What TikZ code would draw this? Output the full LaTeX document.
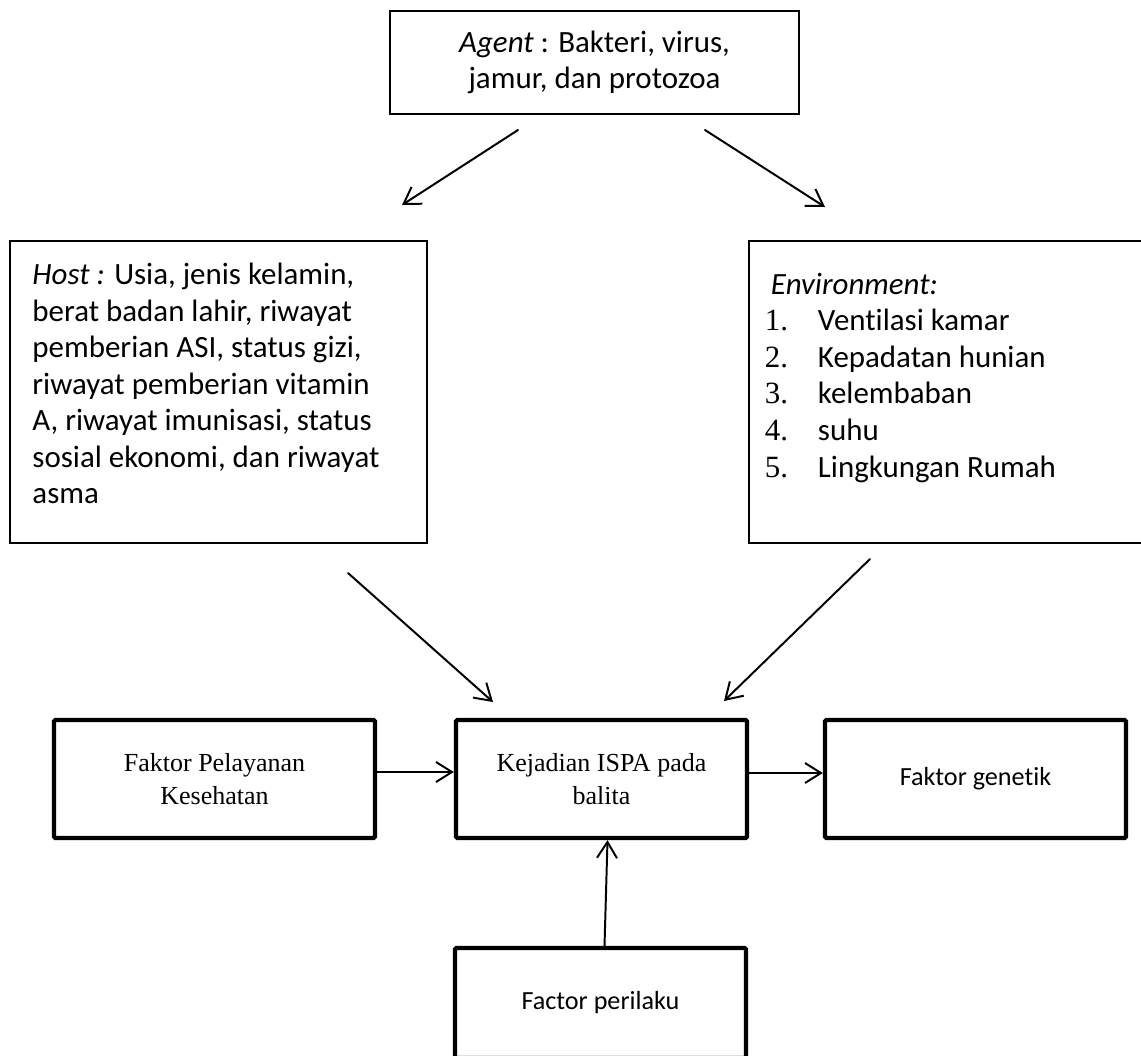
\documentclass[tikz,border=0pt]{standalone}
\usepackage{fontspec}
\setmainfont{Carlito}[Ligatures=NoCommon]
\newfontfamily\timesfont{Liberation Serif}
\usetikzlibrary{arrows.meta}

\begin{document}
\begin{tikzpicture}
[x=0.025cm,y=-0.025cm,line cap=round,
% Styles
thin box/.style={draw,line width=1.4pt},
thick box/.style={draw,line width=3pt,rounded corners=1pt,align=center,inner sep=0pt},
list box/.style={thin box,big text,inner xsep=0.55cm},
link/.style={line width=1.4pt,-{Straight Barb[length=4mm,width=5mm]}},
big text/.style={font=\fontsize{22}{26}\selectfont},
serif text/.style={font=\timesfont\fontsize{18.5}{23}\selectfont},
small text/.style={font=\fontsize{18.6}{23}\selectfont}]
% Local definitions
\def\envitem#1#2{\hspace*{-0.15cm}\makebox[1.325cm][l]{\timesfont #1.}#2}

% The graphic
\useasboundingbox (0,0) rectangle (1141,1055);

% Agent, host and environment
\node[thin box,big text,align=center,inner sep=0pt,
      minimum width=10.225cm,minimum height=2.575cm] (agent) at (594.5,62.5)
  {\textit{Agent} : Bakteri, virus,\\jamur, dan protozoa};
\node[list box,inner ysep=0.55cm] (host) at (218.5,392)
  {\parbox[c][6.45cm][t]{9.3cm}{\raggedright
   \textit{Host :} Usia, jenis kelamin,\\
   berat badan lahir, riwayat\\
   pemberian ASI, status gizi,\\
   riwayat pemberian vitamin\\
   A, riwayat imunisasi, status\\
   sosial ekonomi, dan riwayat\\
   asma}};
\node[list box,inner ysep=0.8cm] (env) at (957,392)
  {\parbox[c][5.95cm][t]{9.3cm}{\raggedright
   \textit{Environment:}\\
   \envitem{1}{Ventilasi kamar}\\
   \envitem{2}{Kepadatan hunian}\\
   \envitem{3}{kelembaban}\\
   \envitem{4}{suhu}\\
   \envitem{5}{Lingkungan Rumah}}};

% Factors round the outcome
\node[thick box,serif text,minimum width=8.025cm,minimum height=2.95cm] (faktor) at (214.5,779)
  {Faktor Pelayanan\\Kesehatan};
\node[thick box,serif text,minimum width=7.275cm,minimum height=2.95cm] (kejadian) at (601.5,779)
  {Kejadian ISPA pada\\balita};
\node[thick box,small text,minimum width=7.525cm,minimum height=2.95cm] (genetik) at (975.5,779)
  {Faktor genetik};
\node[thick box,small text,minimum width=7.275cm,minimum height=2.75cm] (perilaku) at (600.5,1003)
  {Factor perilaku};

% Arrows
\coordinate (host arrow start) at (518,130);
\coordinate (host arrow end) at (402,205);
\coordinate (env arrow start) at (705,130);
\coordinate (env arrow end) at (825,207);
\coordinate (left arrow start) at (348,573);
\coordinate (left arrow end) at (493,702);
\coordinate (right arrow start) at (870,559);
\coordinate (right arrow end) at (724,701);
\draw[link] (host arrow start) -- (host arrow end);
\draw[link] (env arrow start) -- (env arrow end);
\draw[link] (left arrow start) -- (left arrow end);
\draw[link] (right arrow start) -- (right arrow end);
\draw[link] ([yshift=1.75mm]faktor.east) -- ([yshift=1.75mm]kejadian.west);
\draw[link] ([yshift=1.5mm]kejadian.east) -- ([yshift=1.5mm]genetik.west);
\draw[link] ([xshift=1mm]perilaku.north) -- ([xshift=1.5mm]kejadian.south);
\end{tikzpicture}
\end{document}
